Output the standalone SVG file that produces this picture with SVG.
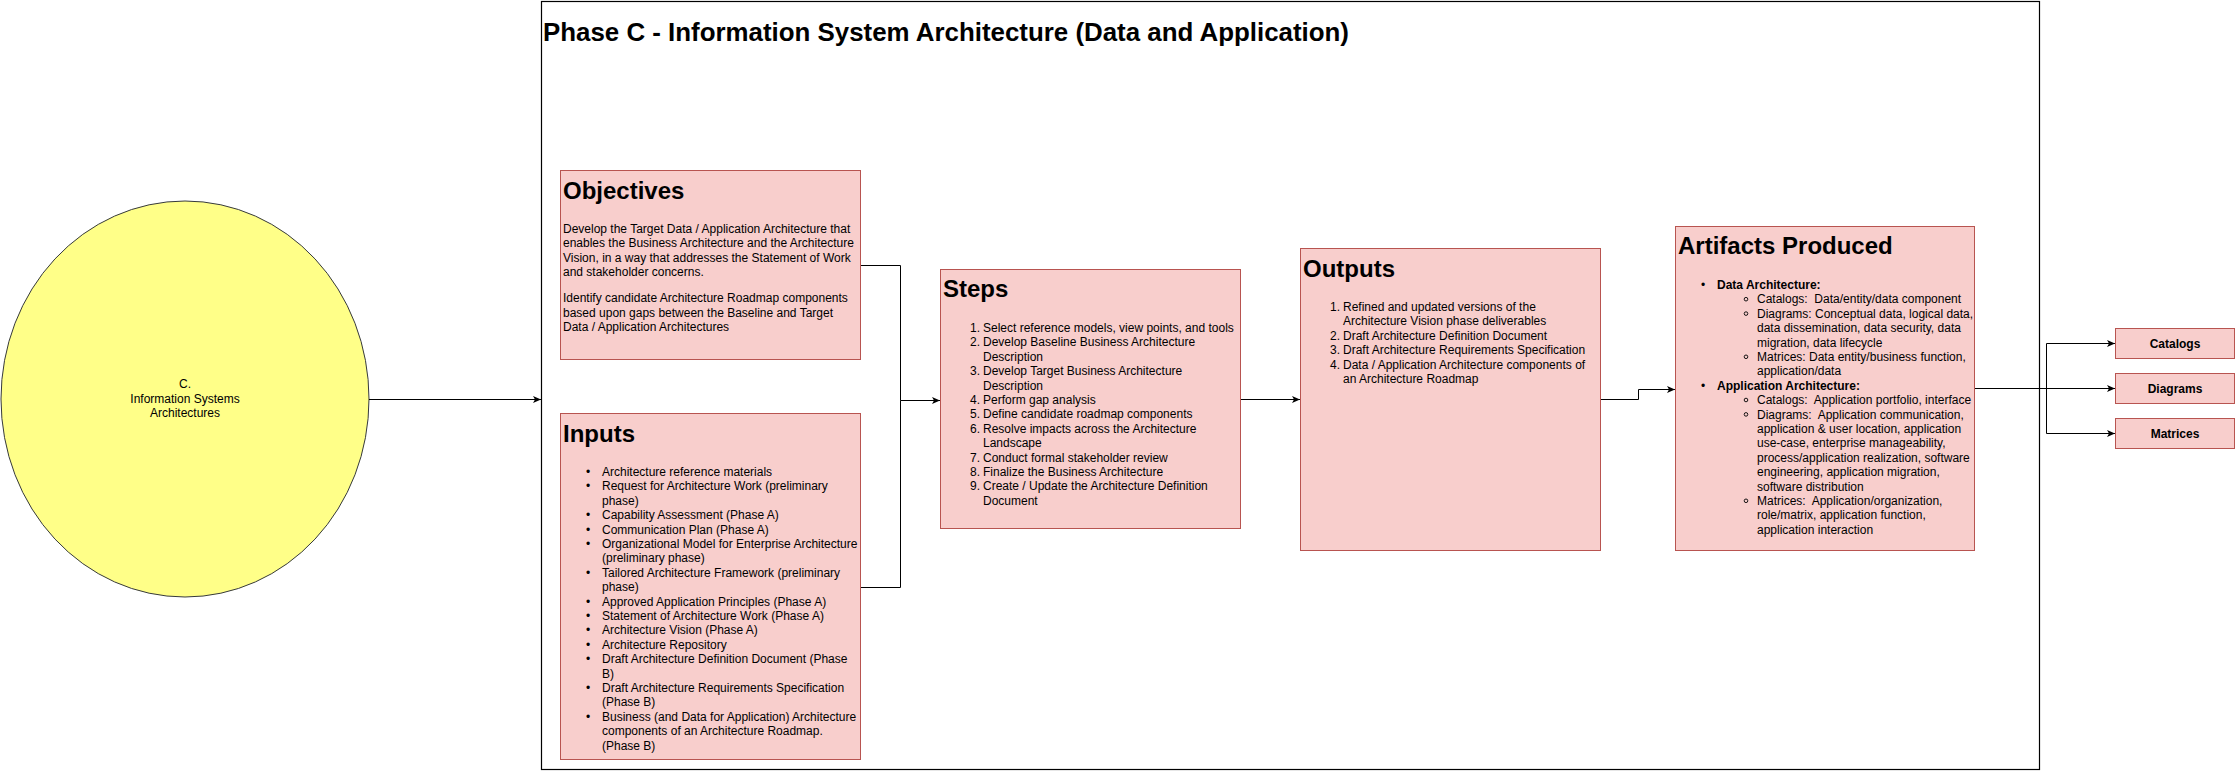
<svg xmlns="http://www.w3.org/2000/svg" width="2236" height="771" viewBox="0 0 2236 771">
<style>
text{font-family:"Liberation Sans",Arial,Helvetica,sans-serif;fill:#000;white-space:pre}
.box{fill:#f8cecc;stroke:#b85450;stroke-width:1}
.h{font-size:24px;font-weight:bold}
.t{font-size:12px}
.b{font-weight:bold}
.c{text-anchor:middle}
.e{text-anchor:end}
.edge{fill:none;stroke:#000;stroke-width:1}
.sub{fill:none;stroke:#000;stroke-width:0.9}
</style>
<defs>
<marker id="arr" viewBox="0 0 8 8" refX="8" refY="4" markerWidth="8" markerHeight="8" markerUnits="userSpaceOnUse" orient="auto">
<path d="M0,0.5 L8,4 L0,7.5 L2,4 Z" fill="#000"/>
</marker>
</defs>

<g id="phase-c">
<rect x="541.5" y="1.5" width="1498" height="768" fill="#fff" stroke="#000" stroke-width="1.2"/>
<text x="543" y="41" font-size="25" font-weight="bold" textLength="806" lengthAdjust="spacingAndGlyphs">Phase C - Information System Architecture (Data and Application)</text>
</g>

<g id="circle-c">
<ellipse cx="185" cy="399" rx="184" ry="198" fill="#ffff88" stroke="#36393d" stroke-width="1"/>
<text class="t c" x="185" y="388.3">C.</text>
<text class="t c" x="185" y="402.7">Information Systems</text>
<text class="t c" x="185" y="417.1">Architectures</text>
</g>

<g id="connectors">
<path class="edge" d="M369,399.5 H541" marker-end="url(#arr)"/>
<path class="edge" d="M861,265.5 H900.5 V400.5"/>
<path class="edge" d="M861,587.5 H900.5 V400.5"/>
<path class="edge" d="M900.5,400.5 H940" marker-end="url(#arr)"/>
<path class="edge" d="M1241,399.5 H1300" marker-end="url(#arr)"/>
<path class="edge" d="M1601,399.5 H1638.5 V389.5 H1675" marker-end="url(#arr)"/>
<path class="edge" d="M1975,388.5 H2115" marker-end="url(#arr)"/>
<path class="edge" d="M2046.5,388.5 V343.5 H2115" marker-end="url(#arr)"/>
<path class="edge" d="M2046.5,388.5 V433.5 H2115" marker-end="url(#arr)"/>
</g>

<g id="objectives">
<rect class="box" x="560.5" y="170.5" width="300" height="189"/>
<text class="h" x="563" y="199">Objectives</text>
<text class="t" x="563" y="233">Develop the Target Data / Application Architecture that</text>
<text class="t" x="563" y="247.4">enables the Business Architecture and the Architecture</text>
<text class="t" x="563" y="261.8">Vision, in a way that addresses the Statement of Work</text>
<text class="t" x="563" y="276.2">and stakeholder concerns.</text>
<text class="t" x="563" y="302.4">Identify candidate Architecture Roadmap components</text>
<text class="t" x="563" y="316.8">based upon gaps between the Baseline and Target</text>
<text class="t" x="563" y="331.2">Data / Application Architectures</text>
</g>

<g id="inputs">
<rect class="box" x="560.5" y="413.5" width="300" height="346"/>
<text class="h" x="563" y="442">Inputs</text>
<g class="t">
<text x="586" y="476">•</text><text x="602" y="476">Architecture reference materials</text>
<text x="586" y="490.4">•</text><text x="602" y="490.4">Request for Architecture Work (preliminary</text>
<text x="602" y="504.8">phase)</text>
<text x="586" y="519.2">•</text><text x="602" y="519.2">Capability Assessment (Phase A)</text>
<text x="586" y="533.6">•</text><text x="602" y="533.6">Communication Plan (Phase A)</text>
<text x="586" y="548">•</text><text x="602" y="548">Organizational Model for Enterprise Architecture</text>
<text x="602" y="562.4">(preliminary phase)</text>
<text x="586" y="576.8">•</text><text x="602" y="576.8">Tailored Architecture Framework (preliminary</text>
<text x="602" y="591.2">phase)</text>
<text x="586" y="605.6">•</text><text x="602" y="605.6">Approved Application Principles (Phase A)</text>
<text x="586" y="620">•</text><text x="602" y="620">Statement of Architecture Work (Phase A)</text>
<text x="586" y="634.4">•</text><text x="602" y="634.4">Architecture Vision (Phase A)</text>
<text x="586" y="648.8">•</text><text x="602" y="648.8">Architecture Repository</text>
<text x="586" y="663.2">•</text><text x="602" y="663.2">Draft Architecture Definition Document (Phase</text>
<text x="602" y="677.6">B)</text>
<text x="586" y="692">•</text><text x="602" y="692">Draft Architecture Requirements Specification</text>
<text x="602" y="706.4">(Phase B)</text>
<text x="586" y="720.8">•</text><text x="602" y="720.8">Business (and Data for Application) Architecture</text>
<text x="602" y="735.2">components of an Architecture Roadmap.</text>
<text x="602" y="749.6">(Phase B)</text>
</g>
</g>

<g id="steps">
<rect class="box" x="940.5" y="269.5" width="300" height="259"/>
<text class="h" x="943" y="297">Steps</text>
<g class="t">
<text class="e" x="980" y="332">1.</text><text x="983" y="332">Select reference models, view points, and tools</text>
<text class="e" x="980" y="346.4">2.</text><text x="983" y="346.4">Develop Baseline Business Architecture</text>
<text x="983" y="360.8">Description</text>
<text class="e" x="980" y="375.2">3.</text><text x="983" y="375.2">Develop Target Business Architecture</text>
<text x="983" y="389.6">Description</text>
<text class="e" x="980" y="404">4.</text><text x="983" y="404">Perform gap analysis</text>
<text class="e" x="980" y="418.4">5.</text><text x="983" y="418.4">Define candidate roadmap components</text>
<text class="e" x="980" y="432.8">6.</text><text x="983" y="432.8">Resolve impacts across the Architecture</text>
<text x="983" y="447.2">Landscape</text>
<text class="e" x="980" y="461.6">7.</text><text x="983" y="461.6">Conduct formal stakeholder review</text>
<text class="e" x="980" y="476">8.</text><text x="983" y="476">Finalize the Business Architecture</text>
<text class="e" x="980" y="490.4">9.</text><text x="983" y="490.4">Create / Update the Architecture Definition</text>
<text x="983" y="504.8">Document</text>
</g>
</g>

<g id="outputs">
<rect class="box" x="1300.5" y="248.5" width="300" height="302"/>
<text class="h" x="1303" y="277">Outputs</text>
<g class="t">
<text class="e" x="1340" y="311">1.</text><text x="1343" y="311">Refined and updated versions of the</text>
<text x="1343" y="325.4">Architecture Vision phase deliverables</text>
<text class="e" x="1340" y="339.8">2.</text><text x="1343" y="339.8">Draft Architecture Definition Document</text>
<text class="e" x="1340" y="354.2">3.</text><text x="1343" y="354.2">Draft Architecture Requirements Specification</text>
<text class="e" x="1340" y="368.6">4.</text><text x="1343" y="368.6">Data / Application Architecture components of</text>
<text x="1343" y="383">an Architecture Roadmap</text>
</g>
</g>

<g id="artifacts">
<rect class="box" x="1675.5" y="226.5" width="299" height="324"/>
<text class="h" x="1678" y="254.3">Artifacts Produced</text>
<g class="t">
<text x="1701" y="289">•</text><text class="b" x="1717" y="289">Data Architecture:</text>
<circle class="sub" cx="1746" cy="299.2" r="1.8"/><text x="1757" y="303.4">Catalogs:  Data/entity/data component</text>
<circle class="sub" cx="1746" cy="313.6" r="1.8"/><text x="1757" y="317.8">Diagrams: Conceptual data, logical data,</text>
<text x="1757" y="332.2">data dissemination, data security, data</text>
<text x="1757" y="346.6">migration, data lifecycle</text>
<circle class="sub" cx="1746" cy="356.8" r="1.8"/><text x="1757" y="361">Matrices: Data entity/business function,</text>
<text x="1757" y="375.4">application/data</text>
<text x="1701" y="389.8">•</text><text class="b" x="1717" y="389.8">Application Architecture:</text>
<circle class="sub" cx="1746" cy="400" r="1.8"/><text x="1757" y="404.2">Catalogs:  Application portfolio, interface</text>
<circle class="sub" cx="1746" cy="414.4" r="1.8"/><text x="1757" y="418.6">Diagrams:  Application communication,</text>
<text x="1757" y="433">application &amp; user location, application</text>
<text x="1757" y="447.4">use-case, enterprise manageability,</text>
<text x="1757" y="461.8">process/application realization, software</text>
<text x="1757" y="476.2">engineering, application migration,</text>
<text x="1757" y="490.6">software distribution</text>
<circle class="sub" cx="1746" cy="500.8" r="1.8"/><text x="1757" y="505">Matrices:  Application/organization,</text>
<text x="1757" y="519.4">role/matrix, application function,</text>
<text x="1757" y="533.8">application interaction</text>
</g>
</g>

<g id="catalogs">
<rect class="box" x="2115.5" y="328.5" width="119" height="30"/>
<text class="t b c" x="2175" y="347.5">Catalogs</text>
</g>
<g id="diagrams">
<rect class="box" x="2115.5" y="373.5" width="119" height="30"/>
<text class="t b c" x="2175" y="392.5">Diagrams</text>
</g>
<g id="matrices">
<rect class="box" x="2115.5" y="418.5" width="119" height="30"/>
<text class="t b c" x="2175" y="437.5">Matrices</text>
</g>
</svg>
